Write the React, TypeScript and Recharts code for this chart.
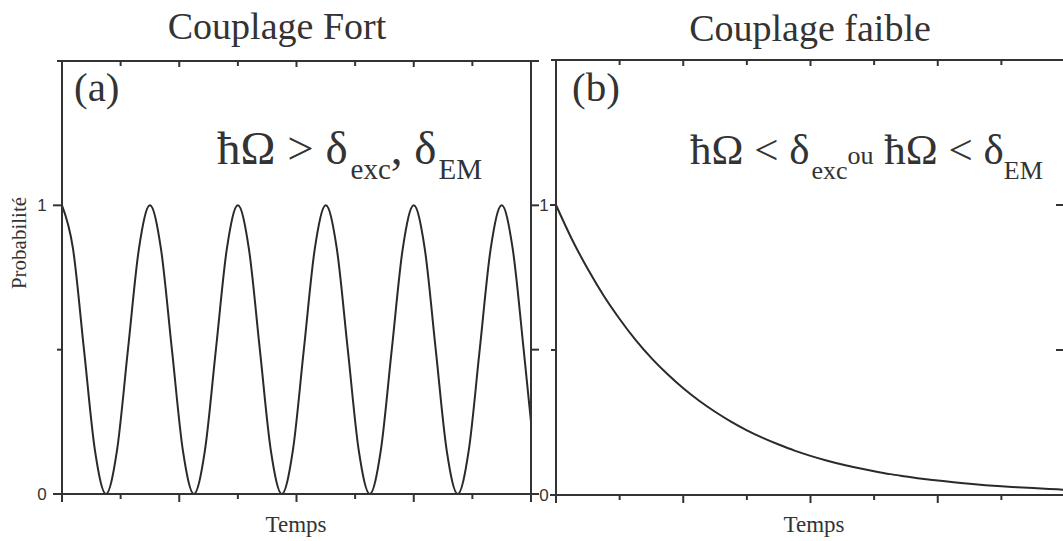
import React from 'react';
import { LineChart, Line, XAxis, YAxis } from 'recharts';

// strong coupling: Rabi-like oscillation
const strongTime = [
  0, 0.1875, 0.375, 0.5625, 0.75, 0.9375, 1.125, 1.3125, 1.5, 1.6875, 1.875, 2.0625,
  2.25, 2.4375, 2.625, 2.8125, 3, 3.1875, 3.375, 3.5625, 3.75, 3.9375, 4.125, 4.3125,
  4.5, 4.6875, 4.875, 5.0625, 5.25, 5.4375, 5.625, 5.8125, 6, 6.1875, 6.375, 6.5625,
  6.75, 6.9375, 7.125, 7.3125, 7.5, 7.6875, 7.875, 8,
];
const strongProb = [
  1, 0.85, 0.5, 0.15, 0, 0.15, 0.5, 0.85, 1, 0.85, 0.5, 0.15,
  0, 0.15, 0.5, 0.85, 1, 0.85, 0.5, 0.15, 0, 0.15, 0.5, 0.85,
  1, 0.85, 0.5, 0.15, 0, 0.15, 0.5, 0.85, 1, 0.85, 0.5, 0.15,
  0, 0.15, 0.5, 0.85, 1, 0.85, 0.5, 0.25,
];

// weak coupling: decay
const weakTime = [
  0, 0.25, 0.5, 0.75, 1, 1.25, 1.5, 1.75, 2, 2.25, 2.5, 2.75, 3, 3.25, 3.5, 3.75,
  4, 4.25, 4.5, 4.75, 5, 5.25, 5.5, 5.75, 6, 6.25, 6.5, 6.75, 7, 7.25, 7.5, 7.75, 8,
];
const weakProb = [
  1, 0.882, 0.779, 0.687, 0.607, 0.535, 0.472, 0.417, 0.368, 0.325, 0.287, 0.253, 0.223, 0.197, 0.174, 0.153,
  0.135, 0.119, 0.105, 0.093, 0.082, 0.072, 0.064, 0.056, 0.05, 0.044, 0.039, 0.034, 0.03, 0.027, 0.024, 0.021, 0.018,
];

const timeTicks = [0, 1, 2, 3, 4, 5, 6, 7, 8];
const probTicks = [0, 0.5, 1, 1.5];
const probLabelled = [0, 1];

const INK = '#333333';
const SERIF = '"Liberation Serif", "Times New Roman", serif';
const SANS = '"Liberation Sans", Arial, sans-serif';

const strongData = strongTime.map((t, i) => ({ t, p: strongProb[i] }));
const weakData = weakTime.map((t, i) => ({ t, p: weakProb[i] }));

const BottomTick = (props: any) => {
  const { x, y, payload } = props;
  const len = payload.value % 2 === 0 ? 8 : 5;
  return <line x1={x} x2={x} y1={y} y2={y + len} stroke={INK} strokeWidth={2} />;
};

const TopTick = (props: any) => {
  const { x, y, payload } = props;
  const len = payload.value % 2 === 0 ? 6 : 5;
  return <line x1={x} x2={x} y1={y} y2={y + len} stroke={INK} strokeWidth={2} />;
};

const makeLeftTick = (majorLen: number, labelGap: number) => (props: any) => {
  const { x, y, payload } = props;
  const major = probLabelled.includes(payload.value);
  return (
    <g>
      <line x1={x - (major ? majorLen : 5)} x2={x} y1={y} y2={y} stroke={INK} strokeWidth={2} />
      {major && (
        <text x={x - labelGap} y={y + 6} textAnchor="middle" fontSize={17} fontFamily={SANS} fill={INK}>
          {payload.value}
        </text>
      )}
    </g>
  );
};

const makeRightTick = (len: number, inward: boolean) => (props: any) => {
  const { x, y } = props;
  return <line x1={x} x2={inward ? x - len : x + len} y1={y} y2={y} stroke={INK} strokeWidth={2} />;
};

const axisLine = { stroke: INK, strokeWidth: 2 };

function Panel({ data, left, width, margin, leftTick, rightTick }: any) {
  return (
    <div style={{ position: 'absolute', left, top: 0 }}>
      <LineChart width={width} height={541} data={data} margin={margin}>
        <XAxis xAxisId="bottom" dataKey="t" type="number" domain={[0, 8]} ticks={timeTicks} interval={0}
          height={10} tickSize={0} tickMargin={0} tickLine={false} axisLine={axisLine} tick={BottomTick} />
        <XAxis xAxisId="top" orientation="top" dataKey="t" type="number" domain={[0, 8]} ticks={timeTicks} interval={0}
          height={5} tickSize={0} tickMargin={0} tickLine={false} axisLine={axisLine} tick={TopTick} />
        <YAxis yAxisId="left" type="number" domain={[0, 1.5]} ticks={probTicks} interval={0}
          width={30} tickSize={0} tickMargin={0} tickLine={false} axisLine={axisLine} tick={leftTick} />
        <YAxis yAxisId="right" orientation="right" type="number" domain={[0, 1.5]} ticks={probTicks} interval={0}
          width={5} tickSize={0} tickMargin={0} tickLine={false} axisLine={axisLine} tick={rightTick} />
        <Line xAxisId="bottom" yAxisId="left" type="monotone" dataKey="p" stroke="#2a2a2a" strokeWidth={2}
          dot={false} activeDot={false} isAnimationActive={false} />
        <Line xAxisId="top" yAxisId="right" type="monotone" dataKey="p" stroke="none" strokeOpacity={0}
          dot={false} activeDot={false} isAnimationActive={false} />
      </LineChart>
    </div>
  );
}

export default function App() {
  return (
    <div style={{ position: 'absolute', left: 0, top: 0, width: 1063, height: 541, overflow: 'hidden', background: '#fff' }}>
      <Panel data={strongData} left={0} width={545}
        margin={{ top: 56, right: 9, bottom: 37, left: 32 }}
        leftTick={makeLeftTick(9, 20)} rightTick={makeRightTick(8, false)} />
      <Panel data={weakData} left={500} width={570}
        margin={{ top: 55, right: 0, bottom: 36, left: 26 }}
        leftTick={makeLeftTick(6, 12)} rightTick={makeRightTick(9, true)} />
      <svg width={1063} height={541} style={{ position: 'absolute', left: 0, top: 0, pointerEvents: 'none' }}>
        <g fontFamily={SERIF} fill={INK}>
          <text x={277} y={39} fontSize={38} textAnchor="middle">Couplage Fort</text>
          <text x={810} y={41} fontSize={38} textAnchor="middle">Couplage faible</text>
          <text x={74} y={101} fontSize={41}>(a)</text>
          <text x={572} y={101} fontSize={41}>(b)</text>
          <text x={217} y={164} fontSize={47}>
            ħΩ &gt; δ<tspan fontSize={29} dx={3} dy={15}>exc</tspan>
            <tspan dy={-15}>, δ</tspan>
            <tspan fontSize={29} dx={2} dy={15}>EM</tspan>
          </text>
          <text x={690} y={164} fontSize={43}>
            ħΩ &lt; δ<tspan fontSize={26} dx={2} dy={15}>exc</tspan>
            <tspan fontSize={26} dy={-15}>ou</tspan>
            <tspan> ħΩ &lt; δ</tspan>
            <tspan fontSize={26} dy={15}>EM</tspan>
          </text>
          <text x={296} y={532} fontSize={23} textAnchor="middle">Temps</text>
          <text x={814} y={532} fontSize={23} textAnchor="middle">Temps</text>
          <text transform="translate(26,243) rotate(-90)" fontSize={21} textAnchor="middle">Probabilité</text>
        </g>
      </svg>
    </div>
  );
}
